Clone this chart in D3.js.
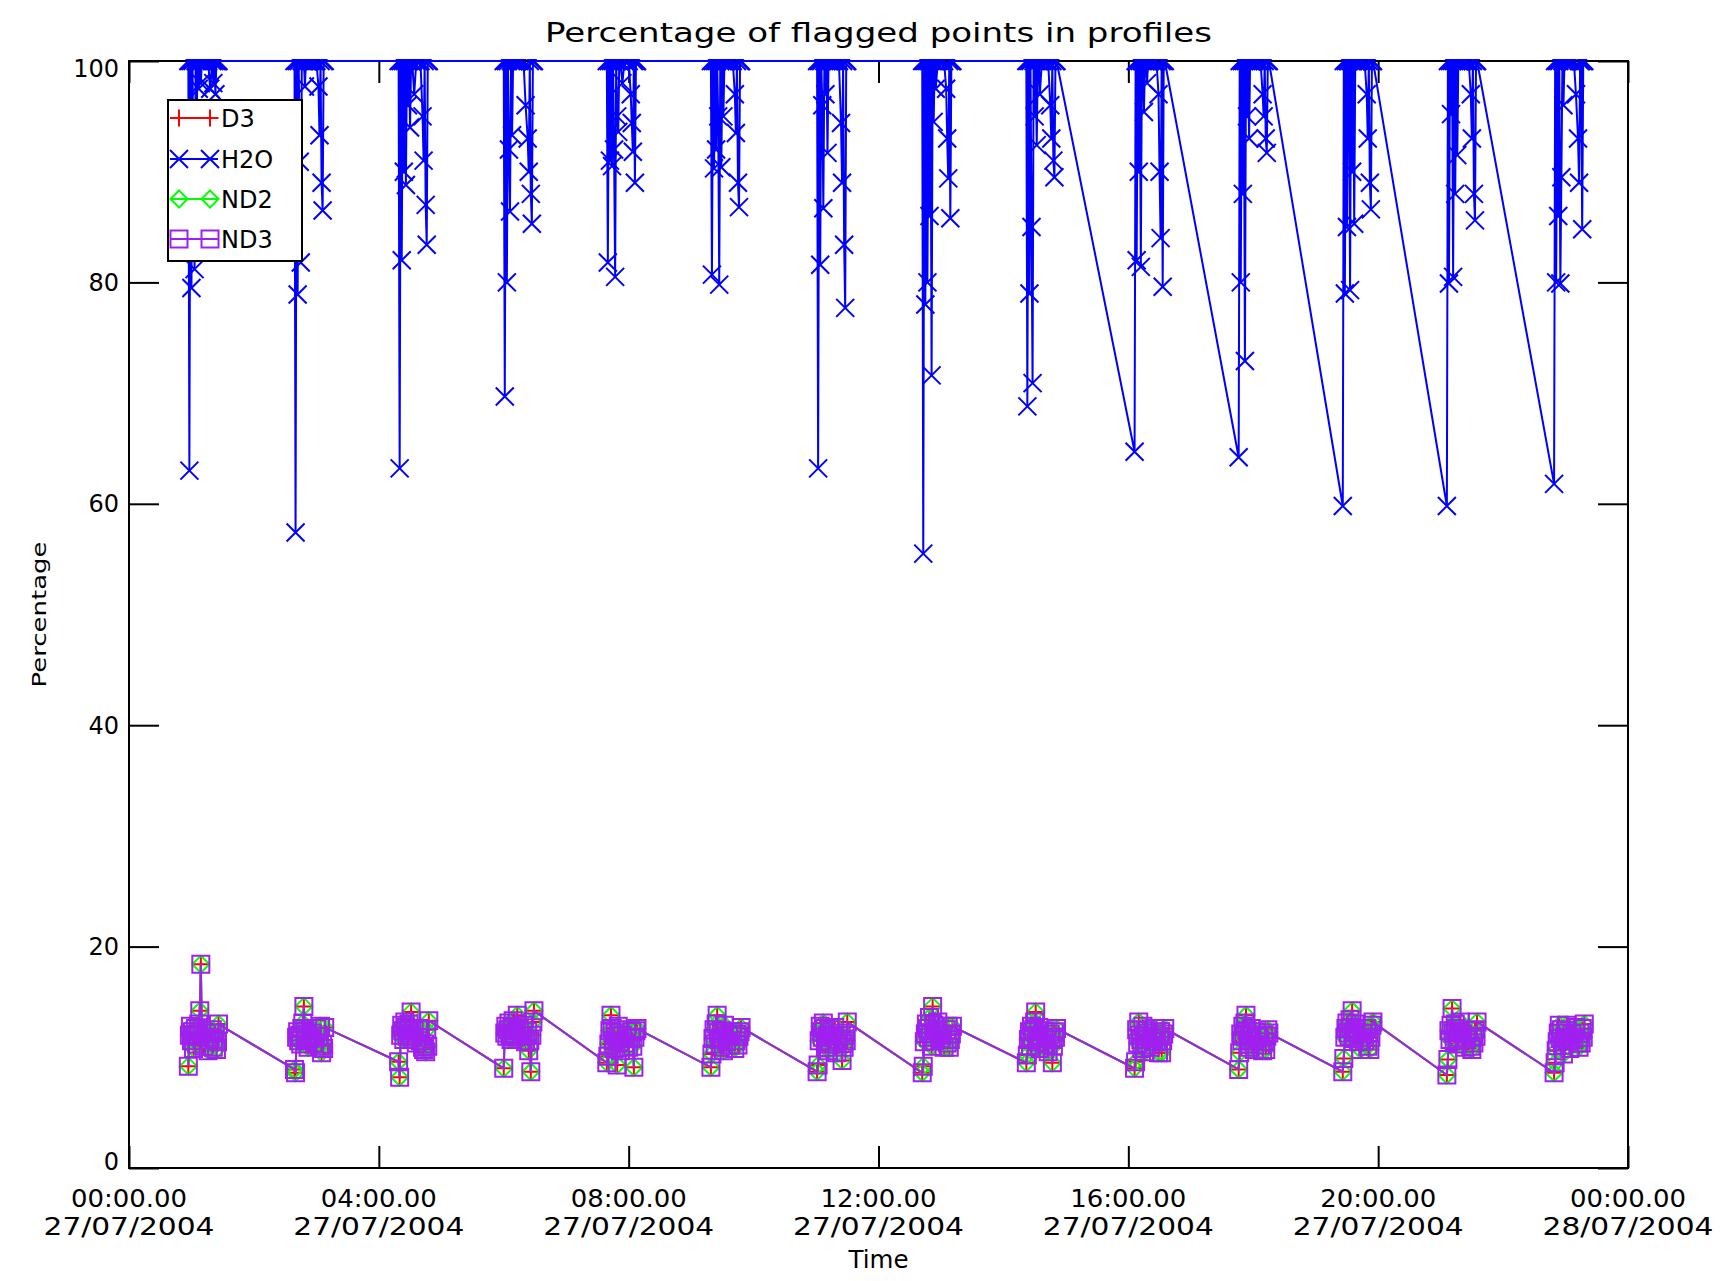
<!DOCTYPE html>
<html><head><meta charset="utf-8">
<script src="https://cdn.jsdelivr.net/npm/d3@7"></script>
<style>
html,body{margin:0;padding:0;background:#fff;}
svg{display:block;}
text{font-family:"DejaVu Sans","Liberation Sans",sans-serif;fill:#000;}
</style>
</head><body>
<svg id="chart" width="1732" height="1281"></svg>
<script>
// ---------------- data ----------------
const TITLE = "Percentage of flagged points in profiles";
const X_LABEL = "Time";
const Y_LABEL = "Percentage";
const SERIES_NAMES = ["D3", "H2O", "ND2", "ND3"];
const Y_TICKS = [0, 20, 40, 60, 80, 100];
const X_TICK_HOURS = [0, 4, 8, 12, 16, 20, 24];

// start (minutes after 27/07/2004 00:00) of each orbit's group of profiles
const CLUSTER_START_MIN = [57, 159, 259, 360, 459, 559, 661, 762, 862, 966, 1066, 1166, 1266, 1369];
// minutes after group start of each profile
const PROFILE_OFFSET_MIN = [0, 1, 2, 3, 4, 5, 6, 7, 8, 9, 10, 11, 12, 13, 15, 17, 19, 21, 23, 24, 25, 26, 27, 28, 29];

const H2O_VALUES = [
  [100, 63.0, 100, 79.5, 100, 88, 81.2, 100, 95, 100, 97.5, 100, 98, 100, 100, 100, 100, 97.5, 100, 98, 100, 97, 100, 100, 100],
  [100, 57.4, 100, 78.9, 100, 90.9, 81.8, 100, 100, 100, 97.7, 100, 100, 100, 100, 100, 100, 100, 97.7, 93.3, 100, 89.0, 86.5, 100, 100],
  [100, 63.2, 100, 82, 100, 90, 100, 88.8, 100, 96, 100, 94.0, 100, 100, 97, 100, 100, 100, 95, 91, 100, 87, 83.4, 100, 100],
  [100, 69.7, 100, 80, 100, 92, 86.4, 100, 93.3, 100, 100, 100, 100, 100, 100, 100, 100, 96, 93, 90, 100, 88, 85.3, 100, 100],
  [100, 81.8, 100, 91, 100, 90.5, 100, 92, 80.5, 100, 95, 93.6, 100, 100, 98, 100, 100, 100, 97, 94.4, 91.8, 100, 89.0, 100, 100],
  [100, 80.7, 100, 90.3, 100, 92, 100, 95, 79.8, 100, 90.4, 100, 95, 100, 100, 100, 100, 100, 97, 93.5, 100, 89, 86.8, 100, 100],
  [100, 63.2, 100, 81.6, 100, 96, 86.7, 100, 97, 100, 91.7, 100, 100, 100, 100, 100, 100, 100, 94.4, 89.0, 100, 83.4, 77.7, 100, 100],
  [100, 55.5, 100, 78, 100, 80, 100, 86, 100, 71.6, 100, 94.5, 100, 97.5, 100, 100, 100, 100, 97.5, 93, 89.4, 100, 85.8, 100, 100],
  [100, 68.8, 100, 79, 100, 85, 70.9, 100, 95, 100, 92.4, 100, 100, 97, 100, 100, 100, 100, 96, 93, 100, 91, 89.5, 100, 100],
  [64.7, 100, 82, 100, 90, 100, 81.4, 100, 100, 95.4, 100, 100, 98, 100, 100, 100, 100, 100, 97, 90, 84, 100, 79.6, 100, 100],
  [64.2, 100, 80, 100, 88, 100, 72.9, 100, 95, 100, 93.0, 100, 100, 100, 100, 100, 100, 100, 97, 95, 100, 93, 91.7, 100, 100],
  [59.8, 100, 79, 100, 85, 100, 100, 79.3, 100, 90, 100, 85.3, 100, 100, 100, 100, 100, 100, 97, 93, 100, 89, 86.6, 100, 100],
  [59.8, 100, 79.9, 100, 95.2, 100, 80.5, 100, 88, 100, 91.5, 100, 100, 100, 100, 100, 100, 100, 97, 93, 100, 88, 85.6, 100, 100],
  [61.8, 100, 80, 100, 86, 100, 79.9, 89.5, 100, 96, 100, 100, 100, 100, 100, 100, 100, 97, 93, 89, 100, 100, 84.8, 100, 100]
];

const ND3_VALUES = [
  [9.2, 12.0, 12.8, 11.5, 12.3, 10.8, 11.9, 12.6, 11.2, 12.1, 13.0, 14.2, 18.4, 12.4, 11.0, 12.2, 10.6, 11.8, 12.5, 10.9, 11.6, 12.2, 10.7, 11.4, 13.0],
  [8.9, 8.6, 11.8, 12.3, 11.5, 12.0, 11.2, 12.6, 13.1, 14.6, 12.4, 11.6, 12.1, 10.9, 11.7, 12.2, 11.3, 12.6, 11.9, 11.0, 12.8, 10.4, 11.2, 10.8, 12.7],
  [9.6, 8.2, 12.0, 12.9, 12.4, 11.6, 13.2, 12.7, 11.9, 12.5, 13.0, 12.2, 14.1, 11.8, 12.4, 11.3, 12.6, 11.5, 10.9, 10.7, 11.2, 10.5, 12.5, 11.0, 13.3],
  [9.0, 12.2, 12.8, 11.9, 12.5, 13.1, 12.0, 11.6, 12.7, 13.3, 12.1, 11.8, 12.4, 13.8, 12.6, 11.9, 12.9, 11.4, 12.3, 10.6, 11.5, 8.7, 12.0, 13.2, 14.2],
  [9.5, 10.1, 11.2, 12.4, 13.8, 12.6, 11.5, 10.8, 12.2, 11.9, 9.3, 12.8, 11.4, 10.6, 12.0, 11.3, 12.5, 10.9, 11.7, 12.3, 11.0, 9.1, 11.8, 12.4, 12.6],
  [9.1, 10.3, 11.7, 12.5, 11.2, 13.0, 13.8, 12.2, 11.6, 10.9, 12.4, 11.8, 10.6, 12.9, 11.4, 12.0, 11.1, 12.3, 10.8, 11.5, 12.1, 11.1, 11.9, 12.3, 12.7],
  [8.7, 9.3, 11.5, 12.8, 12.3, 11.8, 13.1, 12.6, 10.9, 11.4, 12.0, 10.6, 12.5, 11.2, 11.9, 12.7, 10.4, 11.6, 12.2, 9.7, 11.3, 10.9, 12.0, 11.5, 13.2],
  [8.6, 9.2, 11.4, 12.1, 13.0, 12.6, 11.8, 13.6, 12.2, 11.0, 14.6, 12.9, 11.5, 12.4, 13.2, 11.7, 12.0, 10.9, 12.5, 11.3, 12.8, 10.9, 11.6, 12.1, 12.8],
  [9.5, 10.2, 11.6, 12.3, 11.0, 12.8, 11.9, 12.5, 13.2, 14.1, 12.0, 11.4, 12.7, 10.8, 11.7, 12.4, 11.2, 10.5, 12.1, 11.6, 9.5, 11.0, 12.3, 11.8, 12.6],
  [9.0, 9.6, 12.5, 11.3, 13.2, 12.0, 11.6, 10.8, 12.8, 11.9, 10.5, 12.4, 11.1, 12.2, 10.9, 11.7, 12.6, 11.4, 10.4, 11.9, 12.3, 10.4, 11.5, 12.1, 12.6],
  [8.9, 10.4, 12.1, 11.5, 12.8, 11.9, 13.1, 13.8, 12.4, 11.2, 12.0, 10.9, 12.6, 11.5, 10.7, 12.3, 11.8, 11.1, 10.6, 12.0, 11.4, 10.7, 11.9, 12.5, 12.2],
  [8.7, 9.9, 11.8, 12.6, 13.1, 12.2, 11.9, 13.4, 12.7, 14.2, 12.3, 11.7, 12.5, 13.0, 11.4, 10.7, 12.1, 11.5, 12.6, 11.0, 12.2, 10.7, 11.8, 12.9, 13.2],
  [8.4, 9.8, 12.4, 11.6, 12.9, 14.4, 12.2, 11.5, 13.0, 12.6, 11.2, 12.3, 11.8, 13.2, 12.1, 10.9, 11.6, 12.4, 11.0, 10.7, 11.8, 11.3, 12.5, 11.9, 13.2],
  [8.6, 9.5, 10.6, 11.4, 12.2, 12.9, 11.7, 12.5, 11.1, 10.3, 11.8, 12.4, 12.9, 11.5, 10.8, 12.1, 11.6, 12.7, 11.3, 10.9, 12.2, 11.3, 12.6, 11.8, 13.0]
];
// D3 and ND2 coincide with ND3 in every profile (they are visible only inside the ND3 squares)
const ND2_VALUES = ND3_VALUES;
const D3_VALUES = ND3_VALUES;

// ---------------- chart ----------------
const T0 = Date.UTC(2004, 6, 27, 0, 0, 0);
const svg = d3.select("#chart");
const M = {left: 129, right: 1628, top: 61, bottom: 1168};

const x = d3.scaleUtc().domain([new Date(T0), new Date(T0 + 24 * 3600000)]).range([M.left, M.right]);
const y = d3.scaleLinear().domain([0, 100]).range([M.bottom, M.top]);

function seriesPoints(vals) {
  const pts = [];
  CLUSTER_START_MIN.forEach((s, c) => {
    PROFILE_OFFSET_MIN.forEach((o, i) => {
      pts.push({t: new Date(T0 + (s + o) * 60000), v: vals[c][i]});
    });
  });
  return pts;
}

const markers = {
  plus: h => `M${-h},0H${h}M0,${-h}V${h}`,
  cross: h => `M${-h},${-h}L${h},${h}M${-h},${h}L${h},${-h}`,
  diamond: h => `M0,${-h}L${h},0L0,${h}L${-h},0Z`,
  square: h => `M${-h},${-h}H${h}V${h}H${-h}Z`
};

const series = [
  {name: SERIES_NAMES[0], vals: D3_VALUES, color: "#ff0000", marker: "plus", h: 8.5},
  {name: SERIES_NAMES[1], vals: H2O_VALUES, color: "#0000ff", marker: "cross", h: 9},
  {name: SERIES_NAMES[2], vals: ND2_VALUES, color: "#00ff00", marker: "diamond", h: 8.5},
  {name: SERIES_NAMES[3], vals: ND3_VALUES, color: "#a020f0", marker: "square", h: 8.5}
];

// axes box
svg.append("rect").attr("x", M.left).attr("y", M.top)
  .attr("width", M.right - M.left).attr("height", M.bottom - M.top)
  .attr("fill", "none").attr("stroke", "#000").attr("stroke-width", 2);

const tickDates = X_TICK_HOURS.map(h => new Date(T0 + h * 3600000));

const gB = svg.append("g").attr("transform", `translate(0,${M.bottom})`)
  .call(d3.axisBottom(x).tickValues(tickDates).tickSize(-22).tickSizeOuter(0).tickFormat(""));
const gT = svg.append("g").attr("transform", `translate(0,${M.top})`)
  .call(d3.axisTop(x).tickValues(tickDates).tickSize(-22).tickSizeOuter(0).tickFormat(""));
const gL = svg.append("g").attr("transform", `translate(${M.left},0)`)
  .call(d3.axisLeft(y).tickValues(Y_TICKS).tickSize(-30).tickSizeOuter(0).tickPadding(10).tickFormat(d3.format("d")));
const gR = svg.append("g").attr("transform", `translate(${M.right},0)`)
  .call(d3.axisRight(y).tickValues(Y_TICKS).tickSize(-30).tickSizeOuter(0).tickFormat(""));
[gB, gT, gL, gR].forEach(g => {
  g.select(".domain").remove();
  g.selectAll(".tick line").attr("stroke", "#000").attr("stroke-width", 2);
});
gL.selectAll(".tick text")
  .attr("font-size", 24).attr("font-family", '"DejaVu Sans",sans-serif').attr("fill", "#000")
  .attr("dy", d => d === 100 ? "0.66em" : (d === 0 ? "0.05em" : "0.34em"));

// x tick labels (two lines)
const fmtTime = d3.utcFormat("%H:%M.%S");
const fmtDate = d3.utcFormat("%d/%m/%Y");
tickDates.forEach(d => {
  svg.append("text").attr("x", x(d)).attr("y", 1207).attr("text-anchor", "middle")
    .attr("font-size", 24).attr("textLength", 116).attr("lengthAdjust", "spacingAndGlyphs").text(fmtTime(d));
  svg.append("text").attr("x", x(d)).attr("y", 1235).attr("text-anchor", "middle")
    .attr("font-size", 24).attr("textLength", 171).attr("lengthAdjust", "spacingAndGlyphs").text(fmtDate(d));
});

// titles
svg.append("text").attr("x", (M.left + M.right) / 2).attr("y", 42).attr("text-anchor", "middle")
  .attr("font-size", 26).attr("textLength", 667).attr("lengthAdjust", "spacingAndGlyphs").text(TITLE);
svg.append("text").attr("x", (M.left + M.right) / 2).attr("y", 1268).attr("text-anchor", "middle")
  .attr("font-size", 24).attr("textLength", 60).attr("lengthAdjust", "spacingAndGlyphs").text(X_LABEL);
svg.append("text").attr("transform", `translate(46,${(M.top + M.bottom) / 2}) rotate(-90)`)
  .attr("text-anchor", "middle").attr("font-size", 20).attr("textLength", 146)
  .attr("lengthAdjust", "spacingAndGlyphs").text(Y_LABEL);

// data
svg.append("clipPath").attr("id", "plotclip").append("rect")
  .attr("x", M.left).attr("y", M.top - 2).attr("width", M.right - M.left).attr("height", M.bottom - M.top + 4);
const plot = svg.append("g").attr("clip-path", "url(#plotclip)");
const line = d3.line().x(p => x(p.t)).y(p => y(p.v));

series.forEach(s => {
  const pts = seriesPoints(s.vals);
  const g = plot.append("g");
  g.append("path").datum(pts).attr("d", line).attr("fill", "none")
    .attr("stroke", s.color).attr("stroke-width", 2).attr("stroke-linejoin", "miter");
  g.selectAll("path.m").data(pts).enter().append("path").attr("class", "m")
    .attr("transform", p => `translate(${x(p.t)},${y(p.v)})`)
    .attr("d", markers[s.marker](s.h)).attr("fill", "none")
    .attr("stroke", s.color).attr("stroke-width", 2);
});

// legend
const lg = svg.append("g");
lg.append("rect").attr("x", 168).attr("y", 100).attr("width", 134).attr("height", 161)
  .attr("fill", "#fff").attr("stroke", "#000").attr("stroke-width", 2);
const rowY = [118, 159, 199, 239];
series.forEach((s, i) => {
  const yy = rowY[i];
  lg.append("line").attr("x1", 170).attr("x2", 218).attr("y1", yy).attr("y2", yy)
    .attr("stroke", s.color).attr("stroke-width", 2);
  [179, 210].forEach(mx => {
    lg.append("path").attr("transform", `translate(${mx},${yy})`).attr("d", markers[s.marker](s.h))
      .attr("fill", "none").attr("stroke", s.color).attr("stroke-width", 2);
  });
  lg.append("text").attr("x", 221).attr("y", yy + 9).attr("font-size", 24).text(s.name);
});
</script>
</body></html>
